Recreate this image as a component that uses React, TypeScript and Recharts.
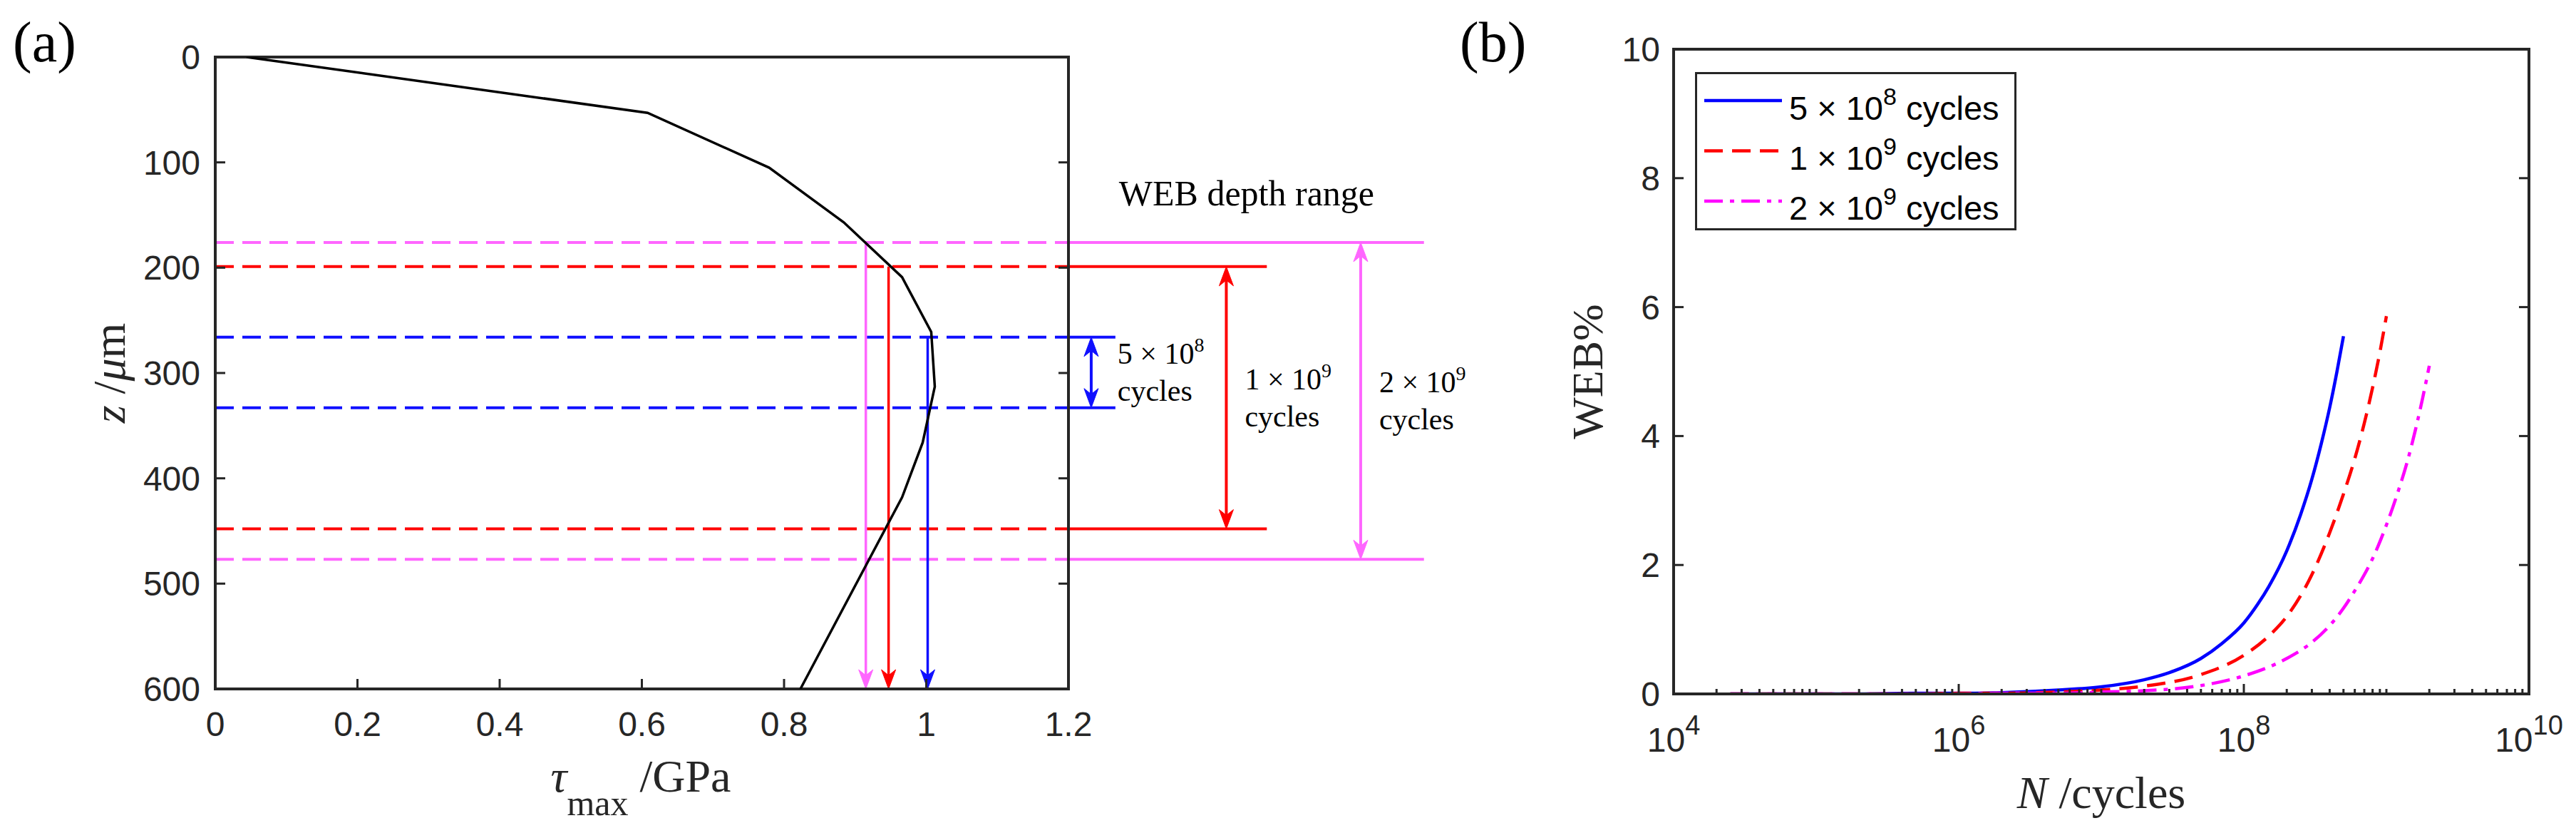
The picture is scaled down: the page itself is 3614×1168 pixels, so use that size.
import React from "react";
import {
  ComposedChart,
  Scatter,
  Line,
  XAxis,
  YAxis,
  ReferenceLine,
  ReferenceDot,
  Legend,
} from "recharts";

// ---- panel (a): max shear stress vs depth ----
const depthUm = [0, 53, 105, 157, 209, 261, 313, 366, 418, 600];
const tauGPa = [0.044, 0.608, 0.779, 0.884, 0.966, 1.007, 1.012, 0.995, 0.966, 0.823];
const tauTicks = [0, 0.2, 0.4, 0.6, 0.8, 1, 1.2];
const depthTicks = [0, 100, 200, 300, 400, 500, 600];

// WEB depth range for each life (top / bottom depth, stress at top)
const rangeMant = ["5", "1", "2"];
const rangeExp = ["8", "9", "9"];
const rangeTop = [266, 199, 176];
const rangeBottom = [333, 448, 477];
const rangeTau = [1.002, 0.947, 0.915];

// ---- panel (b): WEB% vs cycles ----
const nBlue = [2.5e4, 5e4, 1e5, 2e5, 5e5, 1e6, 2e6, 5e6, 1e7, 2e7, 3e7, 5e7, 7e7, 1e8, 1.25e8, 1.5e8, 2e8, 2.5e8, 3e8, 3.5e8, 4e8, 4.5e8, 5e8];
const webBlue = [0, 0, 0, 0, 0.01, 0.01, 0.02, 0.06, 0.11, 0.22, 0.33, 0.55, 0.78, 1.1, 1.39, 1.67, 2.22, 2.78, 3.33, 3.89, 4.44, 5.0, 5.55];
const nRed = [2.5e4, 5e4, 1e5, 2e5, 5e5, 1e6, 2e6, 5e6, 1e7, 2e7, 5e7, 1e8, 1.5e8, 2e8, 3e8, 4e8, 5e8, 6e8, 7e8, 8e8, 9e8, 1e9];
const webRed = [0, 0, 0, 0, 0, 0.01, 0.01, 0.03, 0.06, 0.12, 0.3, 0.6, 0.9, 1.2, 1.85, 2.5, 3.1, 3.65, 4.2, 4.75, 5.3, 5.86];
const nMag = [2.5e4, 5e4, 1e5, 2e5, 5e5, 1e6, 2e6, 5e6, 1e7, 2e7, 5e7, 1e8, 2e8, 3e8, 4e8, 5e8, 6e8, 7e8, 8e8, 1e9, 1.2e9, 1.4e9, 1.6e9, 1.8e9, 2e9];
const webMag = [0, 0, 0, 0, 0, 0, 0.01, 0.01, 0.03, 0.05, 0.13, 0.28, 0.55, 0.8, 1.06, 1.33, 1.6, 1.85, 2.1, 2.62, 3.12, 3.6, 4.1, 4.6, 5.09];
const webTicks = [0, 2, 4, 6, 8, 10];
const cycleMajor = [1e4, 1e6, 1e8, 1e10];

// styles / layout
const AXIS = "#262626";
const SANS = "'Liberation Sans', Arial, Helvetica, sans-serif";
const SERIF = "'Liberation Serif', 'Times New Roman', Times, serif";
const rangeColors = ["#1010FF", "#FF0000", "#FF66FF"];
const rangeArrowX = [1.232, 1.422, 1.611];
const rangeLineEnd = [1.266, 1.479, 1.7];
const rangeTextX = [1.269, 1.448, 1.637];
const webLabelPos = { x: 1.271, y: 141 };

const seriesB = [
  { n: nBlue, w: webBlue, color: "#0000FF", dash: undefined, mant: "5", exp: "8" },
  { n: nRed, w: webRed, color: "#FF0000", dash: "26 13", mant: "1", exp: "9" },
  { n: nMag, w: webMag, color: "#FF00FF", dash: "26 10 6 10", mant: "2", exp: "9" },
];

const curveA = depthUm.map((z, i) => ({ z, tau: tauGPa[i] }));

const cycleTicks: number[] = [];
for (let k = 4; k < 10; k++) {
  for (let m = 1; m < 10; m++) cycleTicks.push(m * Math.pow(10, k));
}
cycleTicks.push(1e10);

function arrowHead(xt: number, yt: number, ux: number, uy: number, color: string, key: string) {
  const L = 27, W = 10, N = 19;
  const bx = xt - ux * L, by = yt - uy * L;
  const nx = -uy, ny = ux;
  const pts = [
    [xt, yt],
    [bx + nx * W, by + ny * W],
    [xt - ux * N, yt - uy * N],
    [bx - nx * W, by - ny * W],
  ];
  return <polygon key={key} points={pts.map((p) => p.join(",")).join(" ")} fill={color} stroke={color} strokeWidth={1} />;
}

const arrowShape = (color: string, both: boolean, width: number) => (props: any) => {
  const { x1, y1, x2, y2 } = props;
  const len = Math.hypot(x2 - x1, y2 - y1) || 1;
  const ux = (x2 - x1) / len, uy = (y2 - y1) / len;
  const N = 19;
  const sx = both ? x1 + ux * N : x1;
  const sy = both ? y1 + uy * N : y1;
  return (
    <g>
      <line x1={sx} y1={sy} x2={x2 - ux * N} y2={y2 - uy * N} stroke={color} strokeWidth={width} />
      {arrowHead(x2, y2, ux, uy, color, "e")}
      {both ? arrowHead(x1, y1, -ux, -uy, color, "s") : null}
    </g>
  );
};

const rangeText = (mant: string, exp: string) => (p: any) => (
  <g fontFamily={SERIF} fontSize={42} fill="#000">
    <text x={p.cx} y={p.cy - 12}>
      {mant} × 10<tspan dy={-17} fontSize={28}>{exp}</tspan>
    </text>
    <text x={p.cx} y={p.cy + 40}>cycles</text>
  </g>
);

const webRangeText = (p: any) => (
  <text x={p.cx} y={p.cy} fontFamily={SERIF} fontSize={50} fill="#000">
    WEB depth range
  </text>
);

// tick renderers (inward ticks, MATLAB style)
const tickBottomA = (p: any) => (
  <g>
    <line x1={p.x} y1={p.y} x2={p.x} y2={p.y - 14} stroke={AXIS} strokeWidth={3} />
    <text x={p.x} y={p.y + 66} textAnchor="middle" fontFamily={SANS} fontSize={48} fill={AXIS}>
      {p.payload.value}
    </text>
  </g>
);
const tickTop = (len: number) => (p: any) => (
  <line x1={p.x} y1={p.y} x2={p.x} y2={p.y + len} stroke={AXIS} strokeWidth={3} />
);
const tickLeft = (gap: number) => (p: any) => (
  <g>
    <line x1={p.x} y1={p.y} x2={p.x + 14} y2={p.y} stroke={AXIS} strokeWidth={3} />
    <text x={p.x - gap} y={p.y + 17} textAnchor="end" fontFamily={SANS} fontSize={48} fill={AXIS}>
      {p.payload.value}
    </text>
  </g>
);
const tickRight = (p: any) => (
  <line x1={p.x} y1={p.y} x2={p.x - 14} y2={p.y} stroke={AXIS} strokeWidth={3} />
);
const isMajor = (v: number) => cycleMajor.some((m) => Math.abs(m - v) / m < 1e-9);
const tickBottomB = (p: any) => {
  const v = p.payload.value;
  const major = isMajor(v);
  return (
    <g>
      <line x1={p.x} y1={p.y} x2={p.x} y2={p.y - (major ? 14 : 7)} stroke={AXIS} strokeWidth={3} />
      {major ? (
        <text x={p.x} y={p.y + 81} textAnchor="middle" fontFamily={SANS} fontSize={48} fill={AXIS}>
          10<tspan dy={-24} fontSize={38}>{Math.round(Math.log10(v))}</tspan>
        </text>
      ) : null}
    </g>
  );
};
const tickTopB = (p: any) => {
  const major = isMajor(p.payload.value);
  return <line x1={p.x} y1={p.y} x2={p.x} y2={p.y + (major ? 14 : 7)} stroke={AXIS} strokeWidth={3} />;
};

const axisLine = { stroke: AXIS, strokeWidth: 4, strokeLinecap: "square" as const };

function PanelA() {
  return (
    <ComposedChart width={2100} height={1168} margin={{ top: 79, right: 600, bottom: 52, left: 182 }}>
      <XAxis xAxisId={0} dataKey="tau" type="number" domain={[0, 1.2]} ticks={tauTicks} interval={0}
        allowDataOverflow tickSize={0} tickMargin={0} tickLine={false} axisLine={axisLine}
        tick={tickBottomA} height={150} />
      <XAxis xAxisId="top" orientation="top" type="number" domain={[0, 1.2]} ticks={tauTicks} interval={0}
        allowDataOverflow tickSize={0} tickMargin={0} tickLine={false} axisLine={axisLine}
        tick={tickTop(14)} height={1} />
      <YAxis yAxisId={0} dataKey="z" type="number" domain={[0, 600]} ticks={depthTicks} interval={0} reversed
        allowDataOverflow tickSize={0} tickMargin={0} tickLine={false} axisLine={axisLine}
        tick={tickLeft(21)} width={120} />
      <YAxis yAxisId="right" orientation="right" type="number" domain={[0, 600]} ticks={depthTicks} interval={0} reversed
        allowDataOverflow tickSize={0} tickMargin={0} tickLine={false} axisLine={axisLine}
        tick={tickRight} width={1} />

      {rangeTop.map((top, i) => (
        <ReferenceLine key={"dt" + i} y={top} stroke={rangeColors[i]} strokeWidth={4} strokeDasharray="26 12" />
      ))}
      {rangeBottom.map((bot, i) => (
        <ReferenceLine key={"db" + i} y={bot} stroke={rangeColors[i]} strokeWidth={4} strokeDasharray="26 12" />
      ))}
      {rangeTop.map((top, i) => (
        <ReferenceLine key={"st" + i} ifOverflow="visible" stroke={rangeColors[i]} strokeWidth={4}
          segment={[{ x: 1.2, y: top }, { x: rangeLineEnd[i], y: top }]} />
      ))}
      {rangeBottom.map((bot, i) => (
        <ReferenceLine key={"sb" + i} ifOverflow="visible" stroke={rangeColors[i]} strokeWidth={4}
          segment={[{ x: 1.2, y: bot }, { x: rangeLineEnd[i], y: bot }]} />
      ))}
      {rangeTau.map((t, i) => (
        <ReferenceLine key={"va" + i} ifOverflow="visible" stroke={rangeColors[i]}
          segment={[{ x: t, y: rangeTop[i] }, { x: t, y: 600 }]}
          shape={arrowShape(rangeColors[i], false, 3.5)} />
      ))}
      {rangeArrowX.map((ax, i) => (
        <ReferenceLine key={"da" + i} ifOverflow="visible" stroke={rangeColors[i]}
          segment={[{ x: ax, y: rangeTop[i] }, { x: ax, y: rangeBottom[i] }]}
          shape={arrowShape(rangeColors[i], true, 4)} />
      ))}
      {rangeTextX.map((tx, i) => (
        <ReferenceDot key={"tx" + i} x={tx} y={(rangeTop[i] + rangeBottom[i]) / 2} ifOverflow="visible"
          shape={rangeText(rangeMant[i], rangeExp[i])} />
      ))}
      <ReferenceDot x={webLabelPos.x} y={webLabelPos.y} ifOverflow="visible" shape={webRangeText} />

      <Scatter data={curveA} fill="#000" line={{ stroke: "#000", strokeWidth: 3.5 }}
        shape={() => <g />} isAnimationActive={false} />
    </ComposedChart>
  );
}

const legendContent = () => (
  <svg width={451} height={222} style={{ display: "block" }}>
    <rect x={1.5} y={1.5} width={448} height={219} fill="#fff" stroke={AXIS} strokeWidth={3} />
    {seriesB.map((s, i) => (
      <g key={i}>
        <line x1={13} x2={122} y1={40 + i * 70.5} y2={40 + i * 70.5} stroke={s.color} strokeWidth={4.5}
          strokeDasharray={s.dash} />
        <text x={132} y={67 + i * 70} fontFamily={SANS} fontSize={47} fill="#000">
          {s.mant} × 10<tspan dy={-21} fontSize={34}>{s.exp}</tspan>
          <tspan dy={21}> cycles</tspan>
        </text>
      </g>
    ))}
  </svg>
);

function PanelB() {
  return (
    <ComposedChart width={1614} height={1168} margin={{ top: 68, right: 65, bottom: 45, left: 228 }}>
      <XAxis xAxisId={0} dataKey="n" type="number" scale="log" domain={[1e4, 1e10]} ticks={cycleTicks} interval={0}
        allowDataOverflow tickSize={0} tickMargin={0} tickLine={false} axisLine={axisLine}
        tick={tickBottomB} height={150} />
      <XAxis xAxisId="top" orientation="top" type="number" scale="log" domain={[1e4, 1e10]} ticks={cycleTicks}
        interval={0} allowDataOverflow tickSize={0} tickMargin={0} tickLine={false} axisLine={axisLine}
        tick={tickTopB} height={1} />
      <YAxis yAxisId={0} type="number" domain={[0, 10]} ticks={webTicks} interval={0}
        allowDataOverflow tickSize={0} tickMargin={0} tickLine={false} axisLine={axisLine}
        tick={tickLeft(19)} width={120} />
      <YAxis yAxisId="right" orientation="right" type="number" domain={[0, 10]} ticks={webTicks} interval={0}
        allowDataOverflow tickSize={0} tickMargin={0} tickLine={false} axisLine={axisLine}
        tick={tickRight} width={1} />
      {seriesB.map((s, i) => (
        <Line key={i} data={s.n.map((n, j) => ({ n, w: s.w[j] }))} dataKey="w" type="monotone" dot={false}
          stroke={s.color} strokeWidth={4.5} strokeDasharray={s.dash} isAnimationActive={false} />
      ))}
      <Legend content={legendContent} layout="vertical" align="center" verticalAlign="middle"
        wrapperStyle={{ left: 378, top: 101, width: 451, height: 222, lineHeight: 0 }} />
    </ComposedChart>
  );
}

export default function App() {
  return (
    <div style={{ position: "absolute", left: 0, top: 0, width: 3614, height: 1168, background: "#fff" }}>
      <div style={{ position: "absolute", left: 0, top: 0 }}>
        <PanelA />
      </div>
      <div style={{ position: "absolute", left: 2000, top: 0 }}>
        <PanelB />
      </div>
      <svg width={3614} height={1168} style={{ position: "absolute", left: 0, top: 0, pointerEvents: "none" }}>
        <text x={18} y={86} fontFamily={SERIF} fontSize={80} fill="#000">(a)</text>
        <text x={2048} y={86} fontFamily={SERIF} fontSize={80} fill="#000">(b)</text>
        <text x={899} y={1110} textAnchor="middle" fontFamily={SERIF} fontSize={64} fill={AXIS}>
          <tspan fontStyle="italic">τ</tspan>
          <tspan dy={33} fontSize={50}>max</tspan>
          <tspan dy={-33}> /GPa</tspan>
        </text>
        <text x={175} y={523} textAnchor="middle" transform="rotate(-90 175 523)" fontFamily={SERIF} fontSize={64}
          fill={AXIS}>
          <tspan fontStyle="italic">z</tspan> /<tspan fontStyle="italic">μ</tspan>m
        </text>
        <text x={2948} y={1133} textAnchor="middle" fontFamily={SERIF} fontSize={64} fill={AXIS}>
          <tspan fontStyle="italic">N</tspan> /cycles
        </text>
        <text x={2248} y={521} textAnchor="middle" transform="rotate(-90 2248 521)" fontFamily={SERIF}
          fontSize={62} fill={AXIS}>
          WEB%
        </text>
      </svg>
    </div>
  );
}
